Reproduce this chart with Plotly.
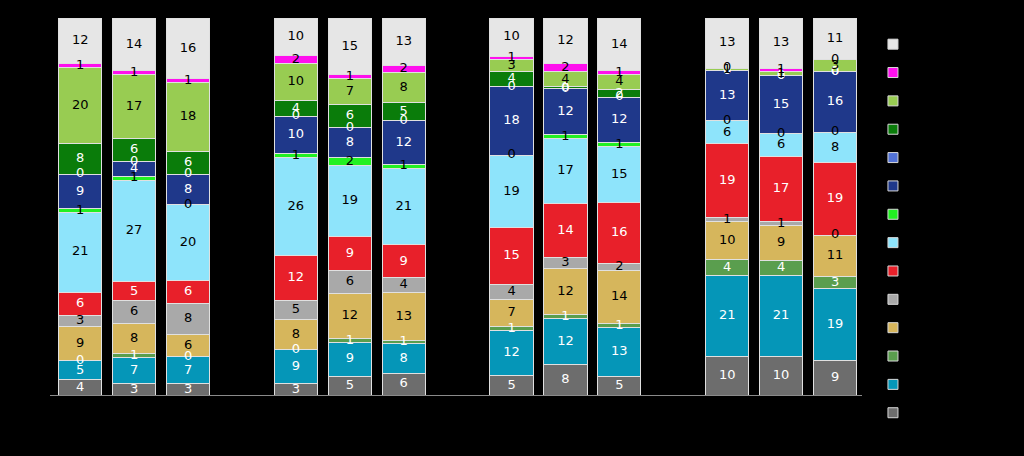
import plotly.graph_objects as go

# x slots: 4 groups of 3 bars, one empty slot between groups
slots = [0, 1, 2, 4, 5, 6, 8, 9, 10, 12, 13, 14]

series_names = ["Series 1", "Series 2", "Series 3", "Series 4", "Series 5", "Series 6", "Series 7",
                "Series 8", "Series 9", "Series 10", "Series 11", "Series 12", "Series 13", "Series 14"]
colors = ["#6d6d6d", "#0596b8", "#5a9e4e", "#d6b65c", "#a9a9a9", "#e8202a", "#8ee4fb",
          "#22f022", "#1f388a", "#5272d6", "#0a7c0a", "#98cc52", "#ff10ee", "#e6e6e6"]
text_colors = ["white", "white", "white", "black", "black", "white", "black",
               "black", "white", "white", "white", "black", "black", "black"]

s1 = [4, 3, 3, 3, 5, 6, 5, 8, 5, 10, 10, 9]
s2 = [5, 7, 7, 9, 9, 8, 12, 12, 13, 21, 21, 19]
s3 = [0, 1, 0, 0, 1, 1, 1, 1, 1, 4, 4, 3]
s4 = [9, 8, 6, 8, 12, 13, 7, 12, 14, 10, 9, 11]
s5 = [3, 6, 8, 5, 6, 4, 4, 3, 2, 1, 1, 0]
s6 = [6, 5, 6, 12, 9, 9, 15, 14, 16, 19, 17, 19]
s7 = [21, 27, 20, 26, 19, 21, 19, 17, 15, 6, 6, 8]
s8 = [1, 1, 0, 1, 2, 1, 0, 1, 1, 0, 0, 0]
s9 = [9, 4, 8, 10, 8, 12, 18, 12, 12, 13, 15, 16]
s10 = [0, 0, 0, 0, 0, 0, 0, 0, 0, 0, 0, 0]
s11 = [8, 6, 6, 4, 6, 5, 4, 0.4, 2, 0, 0, 0]
s12 = [20, 17, 18, 10, 7, 8, 3, 4, 4, 0.6, 1, 3]
s13 = [1, 1, 1, 2, 1, 2, 1, 2, 1, 0, 1, 0]
s14 = [12, 14, 16, 10, 15, 13, 10, 12, 14, 13, 13, 11]

values = [s1, s2, s3, s4, s5, s6, s7, s8, s9, s10, s11, s12, s13, s14]

fig = go.Figure()
for name, vals, col in zip(series_names, values, colors):
    fig.add_trace(go.Bar(
        x=slots, y=vals, name=name, showlegend=False,
        marker=dict(color=col, line=dict(color="#e0e0e0", width=1)),
        width=0.8, hoverinfo="skip",
    ))

# segment labels at the centre of each (percent-normalised) segment
totals = [sum(v[i] for v in values) for i in range(len(slots))]
base = [0.0] * len(slots)
for vals, tcol in zip(values, text_colors):
    ys = []
    for i, v in enumerate(vals):
        ys.append((base[i] + v / 2) / totals[i] * 100)
        base[i] += v
    fig.add_trace(go.Scatter(
        x=slots, y=ys, mode="text", text=[f"{v:.0f}" for v in vals],
        textposition="middle center",
        textfont=dict(color=tcol, size=13, family="DejaVu Sans"),
        showlegend=False, hoverinfo="skip", cliponaxis=False,
    ))

# legend entries (top of stack first), small square swatches
for name, col in reversed(list(zip(series_names, colors))):
    fig.add_trace(go.Scatter(
        x=[None], y=[None], mode="markers", name=name,
        marker=dict(symbol="square", size=10, color=col, line=dict(color="#d8d8d8", width=1)),
        showlegend=True, hoverinfo="skip",
    ))

fig.update_layout(
    barmode="stack", barnorm="percent",
    width=1024, height=456,
    paper_bgcolor="black", plot_bgcolor="black",
    margin=dict(l=50, r=162, t=0, b=0),
    font=dict(family="DejaVu Sans", color="black"),
    xaxis=dict(range=[-0.56, 14.5], showticklabels=False, showgrid=False, zeroline=False,
               showline=True, linecolor="#8a8a8a", linewidth=1, ticks=""),
    yaxis=dict(range=[0, 100], domain=[61 / 456, 1 - 18 / 456], showticklabels=False,
               showgrid=False, zeroline=False, showline=False),
    legend=dict(x=1.0135, xanchor="left", y=1 - 25 / 456, yanchor="top",
                font=dict(color="black", size=19.5), bgcolor="rgba(0,0,0,0)",
                traceorder="normal", itemclick=False),
    showlegend=True,
)

fig.write_html("out.html")
